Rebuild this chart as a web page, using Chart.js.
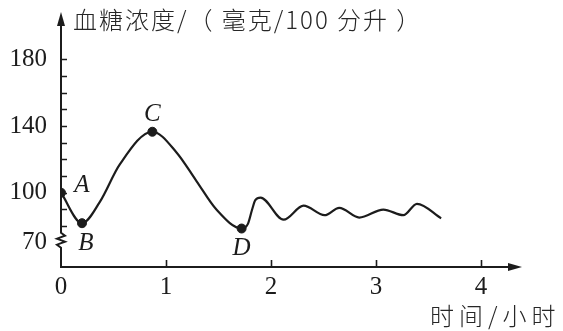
<!DOCTYPE html>
<html>
<head>
<meta charset="utf-8">
<script src="https://cdn.jsdelivr.net/npm/chart.js@4.4.1/dist/chart.umd.min.js"></script>
<style>
  html, body { margin: 0; padding: 0; background: #fff; }
  canvas { display: block; }
</style>
</head>
<body>
<canvas id="sugarChart" width="563" height="331"></canvas>
<script>
// blood sugar curve (hours / mg per 100 ml)
const hours = [0, 0.20, 0.37, 0.56, 0.87, 1.10, 1.29, 1.48, 1.72, 1.78, 1.82, 1.85, 1.90, 2.12, 2.31, 2.51, 2.65, 2.84, 3.07, 3.26, 3.39, 3.62];
const sugar = [100, 81.7, 94.5, 117, 136.6, 124.2, 107, 89.9, 78.5, 81.3, 89.9, 95.6, 97.1, 83.8, 92.2, 86.5, 90.9, 85.1, 89.9, 86.5, 93.3, 84.6];

// labelled points A-D
const pointNames = ['A', 'B', 'C', 'D'];
const pointHours = [0, 0.20, 0.87, 1.72];
const pointSugar = [100, 81.7, 136.6, 78.5];

const xTickValues = [0, 1, 2, 3, 4];
const yLabelValues = [70, 100, 140, 180];
const yMinorTicks = [80, 90, 100, 110, 120, 130, 140, 150, 160, 170, 180];

const yTitle = '血糖浓度/（ 毫克/100 分升 ）';
const xTitle = '时间/小时';

const ink = '#1c1c1c';
const serif = '"Liberation Serif", "DejaVu Serif", serif';
const cjk = '"Noto Sans CJK SC", "Noto Sans", sans-serif';

// offsets of the A-D letters from their dots
const letterOffsets = {
  A: [21, -7],
  B: [4, 20],
  C: [0, -17],
  D: [0, 20],
};

const axesPlugin = {
  id: 'handAxes',
  afterDraw(chart) {
    const ctx = chart.ctx;
    const xs = chart.scales.x;
    const ys = chart.scales.y;
    const x0 = xs.getPixelForValue(0);
    const yBase = chart.chartArea.bottom;
    const y70 = ys.getPixelForValue(70);

    ctx.save();
    ctx.strokeStyle = ink;
    ctx.fillStyle = ink;
    ctx.lineWidth = 2;

    // y axis with break mark near 70
    ctx.beginPath();
    ctx.moveTo(x0, 20);
    ctx.lineTo(x0, y70 - 10);
    ctx.lineTo(x0 + 4, y70 - 7);
    ctx.lineTo(x0 - 4, y70 - 4);
    ctx.lineTo(x0 + 4, y70 - 1);
    ctx.lineTo(x0 - 4, y70 + 2);
    ctx.lineTo(x0, y70 + 5);
    ctx.lineTo(x0, yBase);
    ctx.lineTo(chart.chartArea.right - 6, yBase);
    ctx.stroke();

    // arrow heads
    ctx.beginPath();
    ctx.moveTo(x0, 12);
    ctx.lineTo(x0 - 4, 26);
    ctx.lineTo(x0 + 4, 26);
    ctx.closePath();
    ctx.fill();
    const xr = chart.chartArea.right + 2;
    ctx.beginPath();
    ctx.moveTo(xr, yBase);
    ctx.lineTo(xr - 14, yBase - 4);
    ctx.lineTo(xr - 14, yBase + 4);
    ctx.closePath();
    ctx.fill();

    // inward ticks
    ctx.lineWidth = 1.6;
    ctx.beginPath();
    yMinorTicks.forEach(v => {
      const py = Math.round(ys.getPixelForValue(v)) + 0.5;
      ctx.moveTo(x0, py);
      ctx.lineTo(x0 + 6, py);
    });
    xTickValues.slice(1).forEach(v => {
      const px = Math.round(xs.getPixelForValue(v)) + 0.5;
      ctx.moveTo(px, yBase);
      ctx.lineTo(px, yBase - 7);
    });
    ctx.stroke();

    // letters beside the dots
    ctx.font = 'italic 25px ' + serif;
    ctx.textAlign = 'center';
    ctx.textBaseline = 'middle';
    pointNames.forEach((name, i) => {
      const px = xs.getPixelForValue(pointHours[i]);
      const py = ys.getPixelForValue(pointSugar[i]);
      const off = letterOffsets[name];
      ctx.fillText(name, px + off[0], py + off[1]);
    });

    // axis titles
    ctx.textAlign = 'left';
    ctx.fillStyle = '#262626';
    ctx.font = '300 24px ' + cjk;
    ctx.letterSpacing = '2px';
    ctx.fillText(yTitle, x0 + 12, 20);
    ctx.letterSpacing = '5px';
    ctx.fillText(xTitle, 430, 316);
    ctx.restore();
  }
};

const ctx = document.getElementById('sugarChart').getContext('2d');
const chart = new Chart(ctx, {
  type: 'line',
  data: {
    datasets: [{
      data: hours.map((h, i) => ({ x: h, y: sugar[i] })),
      borderColor: ink,
      borderWidth: 2.2,
      pointRadius: 0,
      cubicInterpolationMode: 'monotone',
      fill: false,
    }, {
      data: pointHours.map((h, i) => ({ x: h, y: pointSugar[i] })),
      showLine: false,
      pointRadius: 4.5,
      pointBackgroundColor: ink,
      pointBorderColor: ink,
    }],
  },
  options: {
    responsive: false,
    animation: false,
    events: [],
    layout: {
      padding: { top: 17, right: 43, left: 0, bottom: 0 },
    },
    plugins: {
      legend: { display: false },
      tooltip: { enabled: false },
    },
    scales: {
      x: {
        type: 'linear',
        min: 0,
        max: 4.371,
        border: { display: false },
        grid: { display: false, drawTicks: false },
        afterBuildTicks: scale => {
          scale.ticks = xTickValues.map(v => ({ value: v }));
        },
        afterFit: scale => {
          scale.height = 64;
        },
        ticks: {
          padding: 5,
          color: ink,
          maxRotation: 0,
          font: { family: serif, size: 25 },
        },
      },
      y: {
        type: 'linear',
        min: 55.4,
        max: 198.3,
        border: { display: false },
        grid: { display: false, drawTicks: false },
        afterBuildTicks: scale => {
          scale.ticks = yLabelValues.map(v => ({ value: v }));
        },
        afterFit: scale => {
          scale.width = 61;
        },
        ticks: {
          padding: 14,
          color: ink,
          font: { family: serif, size: 25 },
        },
      },
    },
  },
  plugins: [axesPlugin],
});
</script>
</body>
</html>
